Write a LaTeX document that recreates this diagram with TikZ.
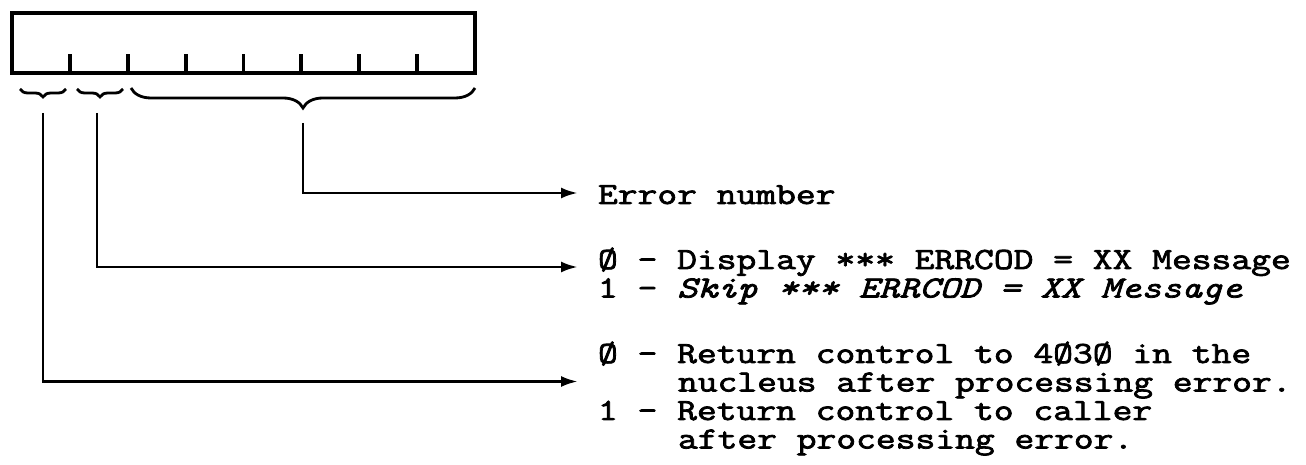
\documentclass[tikz,border=0pt]{standalone}
\usepackage{fontspec}
\newfontfamily\tw{Latin Modern Mono}[FakeStretch=1.25, FakeBold=2.5]
\usetikzlibrary{arrows.meta,decorations.pathreplacing,calc}
\begin{document}
\begin{tikzpicture}[x=0.02cm,y=-0.02cm,
  lbl/.style={anchor=base west, inner sep=0pt, outer sep=0pt, font=\tw\fontsize{17.5}{16}\selectfont},
  conn/.style={line width=1.7pt, -{Latex[length=0.34cm,width=0.22cm]}},
  brc/.style={line width=1.6pt, decorate, decoration={brace, mirror, amplitude=#1}},
  tick/.style={line width=2.2pt},
]
\useasboundingbox (0,0) rectangle (1306,465);
% register
\node[draw, line width=2.3pt, minimum width=9.26cm, minimum height=1.2cm, inner sep=0pt, outer sep=0pt] (reg) at (243.5,43) {};
\foreach \k in {1,...,7}{
  \draw[tick] ($(reg.south west)+(\k*57.875,0)$) -- ++(0,-19);
}
% braces
\draw[brc=0.16cm] (20,89) -- (66,89);
\draw[brc=0.16cm] (77,89) -- (123,89);
\draw[brc=0.4cm] (131,88) -- (475,88);
\coordinate (c1) at (43,113);
\coordinate (c2) at (97,113);
\coordinate (c3) at (303,123);
% texts
\node[lbl] (e1) at (598,204) {Error number};
\node[lbl] (d0) at (598,269) {Ø - Display *** ERRCOD = XX Message};
\node[lbl] (d1) at (598,297.5) {1 - \itshape Skip *** ERRCOD = XX Message};
\node[lbl] (r0) at (598,363) {Ø - Return control to 4Ø3Ø in the};
\node[lbl] (r1) at (678,391.5) {nucleus after processing error.};
\node[lbl] (r2) at (598,420) {1 - Return control to caller};
\node[lbl] (r3) at (678,448.5) {after processing error.};
% connectors
\draw[conn] (c3) |- ([xshift=-0.4cm,yshift=0.22cm]e1.base west);
\draw[conn] (c2) |- ([xshift=-0.4cm,yshift=0.04cm]d0.base west);
\draw[conn] (c1) |- ([xshift=-2cm,yshift=0.2cm]r1.base west);
\end{tikzpicture}
\end{document}
